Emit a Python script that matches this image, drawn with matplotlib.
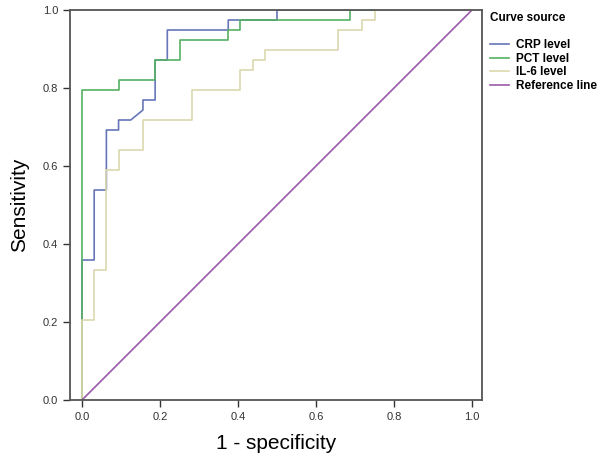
import numpy as np
import matplotlib
matplotlib.use('Agg')
import matplotlib.pyplot as plt

plt.rcParams['font.family'] = ['Liberation Sans', 'DejaVu Sans']

# Curvas ROC (1 - especificidad, sensibilidad); 39 positivos, 32 negativos
crp_fpr = [0, 0, 1/32, 1/32, 2/32, 2/32, 3/32, 3/32, 4/32, 5/32, 5/32, 6/32, 6/32,
           7/32, 7/32, 12/32, 12/32, 16/32, 16/32, 1]
crp_tpr = [0, 14/39, 14/39, 21/39, 21/39, 27/39, 27/39, 28/39, 28/39, 29/39, 30/39, 30/39, 34/39,
           34/39, 37/39, 37/39, 38/39, 38/39, 1, 1]

pct_fpr = [0, 0, 3/32, 3/32, 6/32, 6/32, 8/32, 8/32, 12/32, 12/32, 13/32, 13/32, 22/32, 22/32, 1]
pct_tpr = [0, 31/39, 31/39, 32/39, 32/39, 34/39, 34/39, 36/39, 36/39, 37/39, 37/39, 38/39, 38/39, 1, 1]

il6_fpr = [0, 0, 1/32, 1/32, 2/32, 2/32, 3/32, 3/32, 5/32, 5/32, 9/32, 9/32, 13/32, 13/32,
           14/32, 14/32, 15/32, 15/32, 21/32, 21/32, 23/32, 23/32, 24/32, 24/32, 1]
il6_tpr = [0, 8/39, 8/39, 13/39, 13/39, 23/39, 23/39, 25/39, 25/39, 28/39, 28/39, 31/39, 31/39, 33/39,
           33/39, 34/39, 34/39, 35/39, 35/39, 37/39, 37/39, 38/39, 38/39, 1, 1]

ref_x = [0, 1]
ref_y = [0, 1]

labels = ['CRP level', 'PCT level', 'IL-6 level', 'Reference line']
colors = ['#6676b8', '#55b062', '#dcd8ae', '#9a5ba8']

fig = plt.figure(figsize=(6.02, 4.69), dpi=100)
ax = fig.add_axes([70/602, 69/469, 412/602, 390/469])

ax.plot(crp_fpr, crp_tpr, color=colors[0], lw=1.2, label=labels[0])
ax.plot(pct_fpr, pct_tpr, color=colors[1], lw=1.2, label=labels[1])
ax.plot(il6_fpr, il6_tpr, color=colors[2], lw=1.2, label=labels[2])
ax.plot(ref_x, ref_y, color=colors[3], lw=1.2, label=labels[3])

ax.set_xlim(-12/390, 1 + 10/390)
ax.set_ylim(0, 1)
ticks = [0.0, 0.2, 0.4, 0.6, 0.8, 1.0]
ax.set_xticks(ticks)
ax.set_yticks(ticks)
ax.set_xticklabels([f'{t:.1f}' for t in ticks])
ax.set_yticklabels([f'{t:.1f}' for t in ticks])
ax.tick_params(direction='out', length=5, width=1, labelsize=8, colors='#333333', labelcolor='#333333')
for s in ax.spines.values():
    s.set_color('#555555')
    s.set_linewidth(1.3)

ax.set_xlabel('1 - specificity', fontsize=15, labelpad=9)
ax.set_ylabel('Sensitivity', fontsize=15, labelpad=10)

leg = ax.legend(loc='upper left', bbox_to_anchor=(1.0, 1.017), frameon=False,
                title='Curve source', prop={'weight': 'bold', 'size': 8.5},
                handlelength=1.6, handletextpad=0.55, labelspacing=0.15, borderaxespad=0.3)
leg.get_title().set_fontweight('bold')
leg.get_title().set_fontsize(8.5)
leg._legend_box.align = 'left'
leg._legend_box.sep = 11

fig.savefig('out.png', dpi=100)
